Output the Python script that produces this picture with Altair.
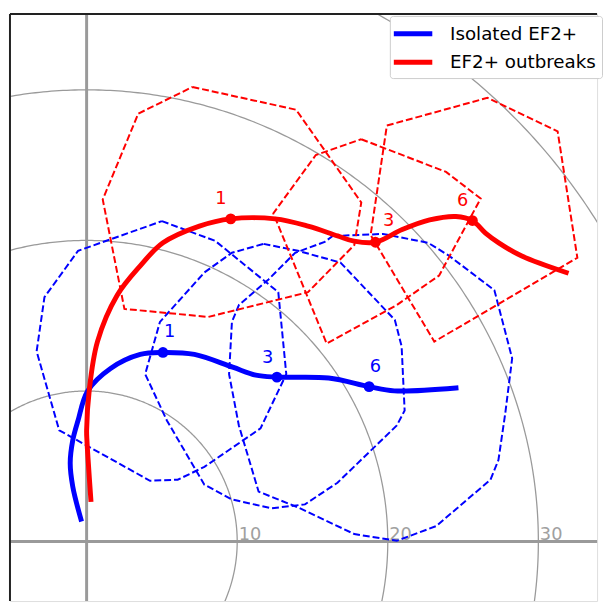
import altair as alt
import numpy as np
import pandas as pd

# ---------------- data (hodograph, m/s) ----------------
series_names = ["Isolated EF2+", "EF2+ outbreaks"]
series_colors = ["blue", "red"]

iso_u = [-0.38, -0.92, -1.09, -0.92, -0.57, 0.07, 1.59, 3.56, 5.07, 7.16, 9.70, 11.24, 12.64, 16.07, 18.76, 20.43, 24.53]
iso_v = [1.49, 3.65, 5.22, 6.73, 8.04, 10.0, 11.5, 12.43, 12.56, 12.43, 11.58, 11.05, 10.92, 10.86, 10.29, 10.01, 10.20]

out_u = [0.28, 0.02, 0.0, 0.17, 0.72, 2.03, 3.56, 5.07, 7.49, 9.57, 12.52, 14.70, 16.67, 17.76, 19.18, 20.96, 22.78, 24.53, 25.62, 26.49, 27.37, 28.90, 31.85]
out_v = [2.80, 6.73, 7.39, 10.0, 13.28, 16.36, 18.31, 19.84, 20.95, 21.43, 21.43, 20.95, 20.30, 19.95, 19.88, 20.72, 21.36, 21.59, 21.32, 20.49, 19.84, 18.96, 17.87]

hour_labels = ["1", "3", "6"]
iso_pt_u = [5.07, 12.64, 18.76]
iso_pt_v = [12.56, 10.92, 10.29]
out_pt_u = [9.57, 19.18, 25.62]
out_pt_v = [21.43, 19.88, 21.32]

iso_lab_u = [5.52, 12.03, 19.17]
iso_lab_v = [13.61, 11.86, 11.27]
out_lab_u = [8.91, 20.05, 24.97]
out_lab_v = [22.39, 20.93, 22.28]

# uncertainty polygons (dashed)
iso_poly1_u = [5.00, 8.54, 12.73, 13.26, 11.55, 7.82, 6.05, 4.21, -1.82, -3.32, -2.80, -0.57]
iso_poly1_v = [21.28, 19.97, 16.56, 11.12, 7.52, 4.96, 4.11, 4.04, 7.39, 12.63, 16.23, 19.31]
iso_poly3_u = [11.75, 14.04, 16.86, 20.47, 20.92, 21.12, 20.60, 16.66, 14.50, 12.27, 9.65, 7.82, 5.33, 3.89, 4.87, 7.82, 9.65]
iso_poly3_v = [19.77, 19.31, 18.53, 14.72, 12.96, 8.70, 7.71, 3.91, 2.47, 2.21, 2.80, 3.78, 8.04, 11.12, 14.59, 17.87, 19.18]
iso_poly6_u = [16.34, 19.68, 22.69, 24.07, 27.08, 28.26, 27.80, 27.35, 26.82, 23.22, 21.45, 20.60, 17.78, 14.04, 11.42, 10.11, 9.46, 9.65, 10.11, 12.08, 13.85, 15.81]
iso_poly6_v = [20.29, 20.43, 19.84, 18.98, 16.69, 12.17, 8.50, 5.42, 4.11, 1.03, 0.37, 0.05, 0.50, 2.27, 3.32, 7.71, 11.12, 14.59, 15.71, 17.41, 19.18, 19.90]

out_poly1_u = [7.03, 13.91, 18.24, 17.78, 14.70, 8.08, 2.51, 1.07, 3.43]
out_poly1_v = [30.19, 28.68, 22.52, 19.70, 16.56, 14.92, 15.45, 22.72, 28.42]
out_poly3_u = [18.24, 23.87, 26.17, 23.41, 20.60, 15.94, 12.40, 15.22]
out_poly3_v = [26.72, 24.55, 22.78, 17.67, 15.71, 13.15, 21.80, 25.67]
out_poly6_u = [19.94, 26.62, 31.28, 32.59, 23.09, 18.86]
out_poly6_v = [27.63, 29.47, 27.24, 18.85, 13.28, 20.36]

ring_radii = [10, 20, 30, 40, 50]
ring_label_text = ["10", "20", "30"]
ring_label_u = [10.1, 20.1, 30.1]
ring_label_v = [0.1, 0.1, 0.1]

# ---------------- tables ----------------
def line_df(u, v, name):
    return pd.DataFrame({"u": u, "v": v, "series": name, "i": range(len(u))})

def poly_df(polys):
    frames = []
    for pid, (u, v) in enumerate(polys):
        uu = list(u) + [u[0]]
        vv = list(v) + [v[0]]
        frames.append(pd.DataFrame({"u": uu, "v": vv, "pid": pid, "k": range(len(uu))}))
    return pd.concat(frames, ignore_index=True)

ang = np.linspace(0, 2 * np.pi, 721)
ring_df = pd.concat(
    [pd.DataFrame({"u": r * np.cos(ang), "v": r * np.sin(ang), "r": r, "k": range(len(ang))}) for r in ring_radii],
    ignore_index=True,
)

xs = alt.Scale(domain=[-5.09, 33.90], nice=False, zero=False)
ys = alt.Scale(domain=[-3.95, 35.04], nice=False, zero=False)
X = alt.X("u:Q", scale=xs, axis=None)
Y = alt.Y("v:Q", scale=ys, axis=None)

grid_col = "#9a9a9a"

rings = alt.Chart(ring_df).mark_line(color=grid_col, strokeWidth=1.3, clip=True).encode(
    x=X, y=Y, detail="r:N", order="k:Q"
)
vaxis = alt.Chart(pd.DataFrame({"u": [0]})).mark_rule(color=grid_col, strokeWidth=3).encode(x=X)
haxis = alt.Chart(pd.DataFrame({"v": [0]})).mark_rule(color=grid_col, strokeWidth=3).encode(y=Y)
ring_labels = alt.Chart(pd.DataFrame({"u": ring_label_u, "v": ring_label_v, "t": ring_label_text})).mark_text(
    align="left", baseline="alphabetic", fontSize=18, color="#a0a0a0", font="DejaVu Sans"
).encode(x=X, y=Y, text="t:N")

# frame: left and top spines (right/bottom fall outside the picture)
left_spine = alt.Chart(pd.DataFrame({"a": [0]})).mark_rule(color="#222222", strokeWidth=2).encode(x=alt.value(0))
top_spine = alt.Chart(pd.DataFrame({"a": [0]})).mark_rule(color="#222222", strokeWidth=2).encode(y=alt.value(0))

def polys_layer(df, col):
    return alt.Chart(df).mark_line(color=col, strokeWidth=2, strokeDash=[7, 3], clip=True).encode(
        x=X, y=Y, detail="pid:N", order="k:Q"
    )

iso_polys = polys_layer(poly_df([(iso_poly1_u, iso_poly1_v), (iso_poly3_u, iso_poly3_v), (iso_poly6_u, iso_poly6_v)]), "blue")
out_polys = polys_layer(poly_df([(out_poly1_u, out_poly1_v), (out_poly3_u, out_poly3_v), (out_poly6_u, out_poly6_v)]), "red")

color_enc = alt.Color(
    "series:N",
    title=None,
    scale=alt.Scale(domain=series_names, range=series_colors),
    legend=alt.Legend(
        orient="none", legendX=385, legendY=2,
        symbolType="M-2,0H2", symbolStrokeWidth=5, symbolSize=380,
        symbolOffset=5.5,
        labelFontSize=18.5, labelFont="DejaVu Sans", labelColor="black",
        fillColor="white", strokeColor="#cccccc", cornerRadius=3,
        padding=5.5, rowPadding=6, labelOffset=25,
    ),
)

def main_line(u, v, name):
    return alt.Chart(line_df(u, v, name)).mark_line(
        strokeWidth=5, interpolate="catmull-rom", strokeCap="square", clip=True
    ).encode(x=X, y=Y, color=color_enc, order="i:Q")

iso_line = main_line(iso_u, iso_v, series_names[0])
out_line = main_line(out_u, out_v, series_names[1])

def dots(u, v, col):
    return alt.Chart(pd.DataFrame({"u": u, "v": v})).mark_circle(size=120, color=col, opacity=1).encode(x=X, y=Y)

def labels(u, v, col):
    return alt.Chart(pd.DataFrame({"u": u, "v": v, "t": hour_labels})).mark_text(
        align="center", baseline="alphabetic", fontSize=18, color=col, font="DejaVu Sans"
    ).encode(x=X, y=Y, text="t:N")

chart = alt.layer(
    rings, vaxis, haxis, ring_labels,
    iso_polys, out_polys,
    iso_line, out_line,
    dots(iso_pt_u, iso_pt_v, "blue"), dots(out_pt_u, out_pt_v, "red"),
    labels(iso_lab_u, iso_lab_v, "blue"), labels(out_lab_u, out_lab_v, "red"),
    left_spine, top_spine,
).properties(width=595, height=595, padding=0, background="white").configure_view(
    strokeWidth=0
).configure(font="DejaVu Sans")

chart.save("out.html", embed_options={"renderer": "svg", "actions": False})
